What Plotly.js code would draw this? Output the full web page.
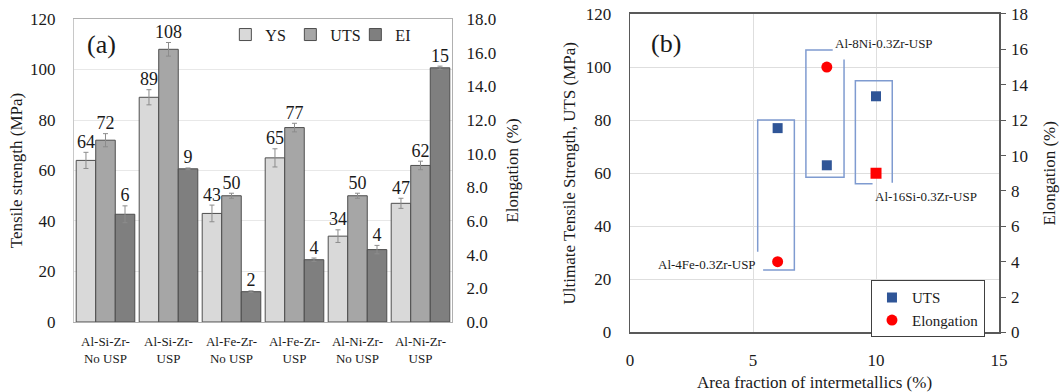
<!DOCTYPE html>
<html>
<head>
<meta charset="utf-8">
<script src="https://cdn.plot.ly/plotly-3.0.1.min.js"></script>
<style>html,body{margin:0;padding:0;background:#fff;}#chart{width:1063px;height:392px;}</style>
</head>
<body>
<div id="chart"></div>
<script>
// ---- Panel (a) data ----
const categories = ['Al-Si-Zr-<br>No USP', 'Al-Si-Zr-<br>USP', 'Al-Fe-Zr-<br>No USP', 'Al-Fe-Zr-<br>USP', 'Al-Ni-Zr-<br>No USP', 'Al-Ni-Zr-<br>USP'];
const ysValues  = [64, 89, 43, 65, 34, 47];
const ysErrors  = [3.2, 3, 3.3, 3.6, 2.5, 2];
const utsValues = [72, 108, 50, 77, 50, 62];
const utsErrors = [2.6, 2.7, 1, 1.7, 1, 1.7];
const elValues  = [6.4, 9.1, 1.8, 3.7, 4.3, 15.1];
const elErrors  = [0.5, 0.05, 0.05, 0.1, 0.25, 0.1];

// ---- Panel (b) data ----
const areaFraction = [6, 8, 10];
const utsB = [77, 63, 89];
const elongB = [4, 15, 9];
const elongSymbols = ['circle', 'circle', 'square'];
const alloyLabels = ['Al-4Fe-0.3Zr-USP', 'Al-8Ni-0.3Zr-USP', 'Al-16Si-0.3Zr-USP'];

const serif = 'Liberation Serif';
const txt = '#1a1a1a';
const idx = categories.map((_, i) => i);
const barW = 0.31;
const offs = [-0.465, -0.155, 0.155];

function barTrace(name, vals, errs, color, k, yaxis) {
  return {
    type: 'bar', name: name, x: idx, y: vals, width: barW, offset: offs[k],
    xaxis: 'x', yaxis: yaxis, legend: 'legend',
    marker: {color: color, line: {color: '#4d4d4d', width: 1}},
    error_y: {type: 'data', array: errs, visible: true, color: '#8c8c8c', thickness: 1, width: 2.5},
    hoverinfo: 'skip'
  };
}
function labelTrace(vals, errs, k, yaxis) {
  return {
    type: 'scatter', mode: 'text', showlegend: false,
    x: idx.map(i => i + offs[k] + barW / 2),
    y: vals.map((v, i) => v + errs[i]),
    text: vals.map(v => String(Math.round(v))),
    textposition: 'top center',
    textfont: {family: serif, size: 18, color: txt},
    xaxis: 'x', yaxis: yaxis, hoverinfo: 'skip', cliponaxis: false
  };
}

const traces = [
  barTrace('YS', ysValues, ysErrors, '#d9d9d9', 0, 'y'),
  barTrace('UTS', utsValues, utsErrors, '#a6a6a6', 1, 'y'),
  barTrace('EI', elValues, elErrors, '#7f7f7f', 2, 'y2'),
  labelTrace(ysValues, ysErrors, 0, 'y'),
  labelTrace(utsValues, utsErrors, 1, 'y'),
  labelTrace(elValues, elErrors, 2, 'y2'),
  {
    type: 'scatter', mode: 'markers', name: 'UTS', x: areaFraction, y: utsB,
    xaxis: 'x2', yaxis: 'y3', legend: 'legend2',
    marker: {symbol: 'square', size: 10, color: '#2f5597'}, cliponaxis: false
  },
  {
    type: 'scatter', mode: 'markers', name: 'Elongation', x: areaFraction, y: elongB,
    xaxis: 'x2', yaxis: 'y4', legend: 'legend2',
    marker: {symbol: elongSymbols, size: 11, color: '#ff0000'}, cliponaxis: false
  }
];

const axFont = {family: serif, size: 17, color: txt};
const boxColor = '#7f9bd0';

const layout = {
  width: 1063, height: 392,
  margin: {l: 0, r: 0, t: 0, b: 0},
  paper_bgcolor: '#fff', plot_bgcolor: 'rgba(0,0,0,0)',
  font: {family: serif, color: txt},
  showlegend: true,
  xaxis: {
    domain: [0.0696, 0.4252], range: [-0.5, 5.5], tickvals: idx, ticktext: categories,
    tickfont: {family: serif, size: 13, color: txt}, ticks: '', showgrid: false, zeroline: false,
    showline: true, linecolor: '#b0b0b0', linewidth: 1.5, mirror: true, ticklabelstandoff: 7,
    anchor: 'y', fixedrange: true
  },
  yaxis: {
    domain: [0.1786, 0.9515], range: [0, 120], dtick: 20, tickfont: axFont,
    showgrid: true, gridcolor: '#e8e8e8', zeroline: false, ticks: '',
    showline: true, linecolor: '#c8c8c8', ticklabelstandoff: 14,
    title: {text: 'Tensile strength (MPa)', font: axFont, standoff: 3}, anchor: 'x'
  },
  yaxis2: {
    overlaying: 'y', side: 'right', range: [0, 18], dtick: 2, tickformat: '.1f',
    tickfont: axFont, showgrid: false, zeroline: false, ticks: '',
    showline: true, linecolor: '#b0b0b0', ticklabelstandoff: 10,
    title: {text: 'Elongation (%)', font: axFont, standoff: 10}, anchor: 'x'
  },
  xaxis2: {
    domain: [0.5927, 0.9398], range: [0, 15], dtick: 5, tickfont: axFont,
    showgrid: true, gridcolor: '#dedede', zeroline: false, ticks: '',
    showline: true, linecolor: '#595959', linewidth: 1.5, mirror: true, ticklabelstandoff: 12,
    title: {text: 'Area fraction of intermetallics (%)', font: axFont, standoff: 6}, anchor: 'y3'
  },
  yaxis3: {
    domain: [0.1518, 0.9643], range: [0, 120], dtick: 20, tickfont: axFont,
    showgrid: true, gridcolor: '#dedede', zeroline: false, ticks: '',
    showline: true, linecolor: '#595959', linewidth: 1.5, ticklabelstandoff: 14,
    title: {text: 'Ultimate Tensile Strength, UTS (MPa)', font: axFont, standoff: 5}, anchor: 'x2'
  },
  yaxis4: {
    overlaying: 'y3', side: 'right', range: [0, 18], dtick: 2, tickfont: axFont,
    showgrid: false, zeroline: false, ticks: 'outside', ticklen: 5, tickcolor: '#595959',
    showline: true, linecolor: '#595959', linewidth: 1.5, ticklabelstandoff: 2,
    title: {text: 'Elongation (%)', font: axFont, standoff: 15}, anchor: 'x2'
  },
  legend: {
    orientation: 'h', x: 0.212, y: 0.955, xanchor: 'left', yanchor: 'top',
    font: {family: serif, size: 16, color: txt}, bgcolor: 'rgba(0,0,0,0)', itemwidth: 30,
    entrywidth: 20, entrywidthmode: 'pixels'
  },
  legend2: {
    x: 0.9266, y: 0.285, xanchor: 'right', yanchor: 'top', tracegroupgap: 0,
    font: {family: serif, size: 15, color: txt}, bgcolor: '#fff',
    bordercolor: '#404040', borderwidth: 1, itemwidth: 30
  },
  shapes: [
    {type: 'path', xref: 'x2', yref: 'y3', path: 'M 5.41,23.5 L 6.68,23.5 L 6.68,80.1 L 5.19,80.1 L 5.19,30.4', line: {color: boxColor, width: 1.5}},
    {type: 'path', xref: 'x2', yref: 'y3', path: 'M 8.24,106.4 L 7.15,106.4 L 7.15,58.5 L 8.70,58.5 L 8.70,102.9', line: {color: boxColor, width: 1.5}},
    {type: 'path', xref: 'x2', yref: 'y3', path: 'M 9.86,56 L 9.16,56 L 9.16,94.8 L 10.66,94.8 L 10.66,56.4', line: {color: boxColor, width: 1.5}}
  ],
  annotations: [
    {text: '(a)', xref: 'paper', yref: 'paper', x: 101 / 1063, y: 1 - 45 / 392, xanchor: 'center', yanchor: 'middle', showarrow: false, font: {family: serif, size: 26, color: txt}},
    {text: '(b)', xref: 'paper', yref: 'paper', x: 666 / 1063, y: 1 - 43 / 392, xanchor: 'center', yanchor: 'middle', showarrow: false, font: {family: serif, size: 26, color: txt}},
    {text: alloyLabels[0], xref: 'x2', yref: 'y3', x: 5.2, y: 25.8, xanchor: 'right', yanchor: 'middle', showarrow: false, font: {family: serif, size: 13, color: txt}},
    {text: alloyLabels[1], xref: 'x2', yref: 'y3', x: 8.25, y: 109, xanchor: 'left', yanchor: 'middle', showarrow: false, font: {family: serif, size: 13, color: txt}},
    {text: alloyLabels[2], xref: 'x2', yref: 'y3', x: 9.88, y: 51.2, xanchor: 'left', yanchor: 'middle', showarrow: false, font: {family: serif, size: 13, color: txt}}
  ]
};

Plotly.newPlot('chart', traces, layout, {displayModeBar: false, staticPlot: true});
</script>
</body>
</html>
